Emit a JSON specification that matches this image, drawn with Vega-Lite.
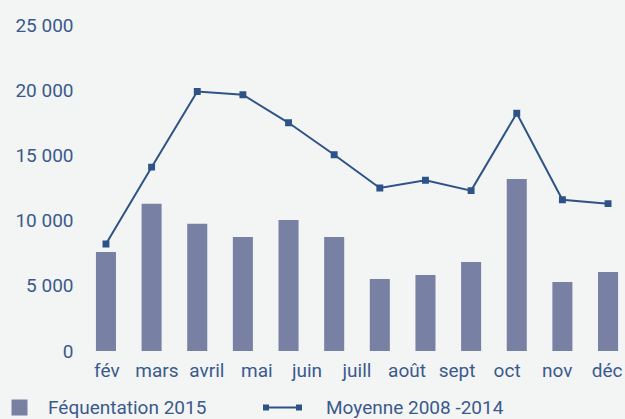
{
  "$schema": "https://vega.github.io/schema/vega-lite/v6.json",
  "width": 534,
  "height": 326,
  "padding": {"left": 90, "top": 25, "right": 1, "bottom": 68},
  "autosize": {"type": "none"},
  "background": "#f3f4f4",
  "config": {
    "view": {"stroke": null},
    "font": "Roboto",
    "axis": {"labelColor": "#3b5a8c", "labelFont": "Roboto"},
    "legend": {"labelColor": "#3b5a8c", "labelFont": "Roboto", "labelLimit": 400}
  },
  "datasets": {
    "valeurs": [
      {"rang": 1, "frequentation": 7600, "moyenne": 8200},
      {"rang": 2, "frequentation": 11300, "moyenne": 14100},
      {"rang": 3, "frequentation": 9750, "moyenne": 19900},
      {"rang": 4, "frequentation": 8750, "moyenne": 19650},
      {"rang": 5, "frequentation": 10050, "moyenne": 17500},
      {"rang": 6, "frequentation": 8740, "moyenne": 15050},
      {"rang": 7, "frequentation": 5520, "moyenne": 12500},
      {"rang": 8, "frequentation": 5830, "moyenne": 13100},
      {"rang": 9, "frequentation": 6830, "moyenne": 12300},
      {"rang": 10, "frequentation": 13190, "moyenne": 18230},
      {"rang": 11, "frequentation": 5290, "moyenne": 11600},
      {"rang": 12, "frequentation": 6060, "moyenne": 11300}
    ],
    "etiquettes": [
      {"mois": "fév"}, {"mois": "mars"}, {"mois": "avril"}, {"mois": "mai"},
      {"mois": "juin"}, {"mois": "juill"}, {"mois": "août"}, {"mois": "sept"},
      {"mois": "oct"}, {"mois": "nov"}, {"mois": "déc"}
    ]
  },
  "layer": [
    {
      "data": {"name": "valeurs"},
      "encoding": {
        "x": {
          "field": "rang",
          "type": "ordinal",
          "scale": {"paddingInner": 0.561, "paddingOuter": 0.13},
          "axis": null
        }
      },
      "layer": [
        {
          "mark": {"type": "bar"},
          "encoding": {
            "y": {
              "field": "frequentation",
              "type": "quantitative",
              "scale": {"domain": [0, 25000], "nice": false},
              "axis": {
                "title": null,
                "values": [0, 5000, 10000, 15000, 20000, 25000],
                "labelExpr": "replace(format(datum.value, ',d'), ',', ' ')",
                "domain": false,
                "ticks": false,
                "grid": false,
                "labelPadding": 17,
                "labelFontSize": 19
              }
            },
            "fill": {
              "datum": "Féquentation 2015",
              "type": "nominal",
              "scale": {"range": ["#7880a4"]},
              "legend": {
                "title": null,
                "orient": "none",
                "legendX": -80,
                "legendY": 373,
                "padding": 0,
                "symbolType": "square",
                "symbolSize": 256,
                "symbolStrokeWidth": 0,
                "labelOffset": 19,
                "labelFontSize": 19
              }
            }
          }
        },
        {
          "mark": {
            "type": "line",
            "strokeWidth": 2,
            "point": {"filled": true, "shape": "square", "size": 24, "fill": "#2e5386", "stroke": null}
          },
          "encoding": {
            "y": {"field": "moyenne", "type": "quantitative"},
            "stroke": {
              "datum": "Moyenne 2008 -2014",
              "type": "nominal",
              "scale": {"range": ["#2e5386"]},
              "legend": {
                "title": null,
                "orient": "none",
                "legendX": 183,
                "legendY": 373,
                "padding": 0,
                "symbolType": "M-3.7,0H3.7M-3.7,-0.4H-2.9V0.4H-3.7ZM2.9,-0.4H3.7V0.4H2.9Z",
                "symbolSize": 100,
                "symbolStrokeWidth": 2,
                "symbolFillColor": "#2e5386",
                "labelOffset": 34,
                "labelFontSize": 19
              }
            }
          }
        }
      ]
    },
    {
      "data": {"name": "etiquettes"},
      "mark": {"type": "text", "fontSize": 19, "color": "#3b5a8c", "baseline": "middle", "dy": 20, "font": "Roboto"},
      "encoding": {
        "x": {
          "field": "mois",
          "type": "nominal",
          "sort": null,
          "scale": {"type": "point", "padding": 0.336},
          "axis": null
        },
        "y": {"datum": 0, "type": "quantitative"},
        "text": {"field": "mois"}
      }
    }
  ],
  "resolve": {"scale": {"x": "independent"}}
}
